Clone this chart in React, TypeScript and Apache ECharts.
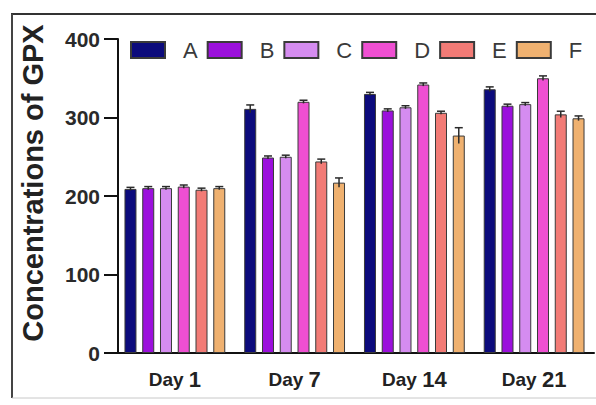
import React, { useEffect, useRef } from "react";
import * as echarts from "echarts";

const categories = ["Day 1", "Day 7", "Day 14", "Day 21"];
const seriesNames = ["A", "B", "C", "D", "E", "F"];
const valuesA = [209, 311, 330, 336];
const valuesB = [210, 249, 309, 315];
const valuesC = [210, 250, 313, 317];
const valuesD = [212, 320, 342, 350];
const valuesE = [208, 244, 306, 304];
const valuesF = [210, 217, 277, 299];
const errA = [2, 5, 2, 3];
const errB = [2, 2, 2, 2];
const errC = [2, 2, 2, 2];
const errD = [2, 2, 2, 3];
const errE = [2, 3, 2, 4];
const errF = [2, 6, 10, 3];
const yTicks = [0, 100, 200, 300, 400];
const colors = ["#0c0b7c", "#9b10dc", "#d58cf0", "#ef4fd2", "#f27b76", "#efb170"];

const allValues = [valuesA, valuesB, valuesC, valuesD, valuesE, valuesF];
const allErr = [errA, errB, errC, errD, errE, errF];

const FONT = "'Liberation Sans', Arial, Helvetica, sans-serif";
const BAR_W = 12;
const BAR_GAP = 0.48;

export default function App() {
  const ref = useRef<HTMLDivElement>(null);
  useEffect(() => {
    if (!ref.current) return;
    const chart = echarts.init(ref.current, undefined, { renderer: "svg" });
    const n = seriesNames.length;
    const stride = BAR_W * (1 + BAR_GAP);
    const barSeries = seriesNames.map((name, i) => ({
      name,
      type: "bar",
      data: allValues[i],
      barWidth: BAR_W,
      barGap: BAR_GAP * 100 + "%",
      itemStyle: { color: colors[i], borderColor: "#3a3a3a", borderWidth: 1 },
      z: 2,
    }));
    const errSeries = seriesNames.map((name, i) => {
      const offset = (i - (n - 1) / 2) * stride;
      return {
        name: name + "_err",
        type: "custom",
        z: 5,
        data: allValues[i].map((v, k) => [k, v, allErr[i][k]]),
        encode: { x: 0, y: 1 },
        renderItem: (params: any, api: any) => {
          const ci = api.value(0);
          const v = api.value(1);
          const e = api.value(2);
          const top = api.coord([ci, v + e]);
          const bot = api.coord([ci, v - e]);
          const x = top[0] + offset;
          const st = { stroke: "#2a2a2a", lineWidth: 1.5 };
          return {
            type: "group",
            children: [
              { type: "line", shape: { x1: x, y1: top[1], x2: x, y2: bot[1] }, style: st },
              { type: "line", shape: { x1: x - 4, y1: top[1], x2: x + 4, y2: top[1] }, style: st },
            ],
          };
        },
      };
    });
    chart.setOption({
      animation: false,
      backgroundColor: "#ffffff",
      grid: { left: 115, right: 2, top: 39, bottom: 52 },
      legend: {
        data: seriesNames,
        left: 125,
        top: 34,
        itemWidth: 34,
        itemHeight: 16,
        itemGap: 9,
        icon: "rect",
        textStyle: { fontSize: 22, color: "#3a3a3a", fontFamily: FONT, padding: [0, 0, 0, 13] },
      },
      xAxis: {
        type: "category",
        data: categories,
        axisLine: { lineStyle: { color: "#111", width: 2 } },
        axisTick: { alignWithLabel: true, length: 10, lineStyle: { color: "#111", width: 2 } },
        axisLabel: {
          margin: 15,
          formatter: (v: string) => {
            const parts = v.split(" ");
            return `{d|${parts[0]} }{n|${parts[1]}}`;
          },
          rich: {
            d: { fontSize: 19, fontWeight: "bold", color: "#222", fontFamily: FONT },
            n: { fontSize: 22, fontWeight: "bold", color: "#222", fontFamily: FONT },
          },
        },
      },
      yAxis: {
        type: "value",
        min: yTicks[0],
        max: yTicks[yTicks.length - 1],
        interval: 100,
        offset: -3,
        name: "Concentrations of GPX",
        nameLocation: "middle",
        nameGap: 71,
        nameTextStyle: {
          fontSize: 29,
          fontWeight: "bold",
          color: "#222",
          fontFamily: FONT,
          padding: [0, 0, 0, 26],
        },
        axisLine: { show: true, lineStyle: { color: "#111", width: 2 } },
        axisTick: { show: true, length: 14, lineStyle: { color: "#111", width: 2 } },
        axisLabel: { fontSize: 21, fontWeight: "bold", color: "#2a2a2a", fontFamily: FONT, margin: 18 },
        splitLine: { show: false },
      },
      graphic: [
        { type: "line", shape: { x1: 11, y1: 14, x2: 596, y2: 14 }, style: { stroke: "#333", lineWidth: 2 } },
        { type: "line", shape: { x1: 12, y1: 14, x2: 12, y2: 398 }, style: { stroke: "#444", lineWidth: 2 } },
        { type: "line", shape: { x1: 12, y1: 398, x2: 596, y2: 398 }, style: { stroke: "#c8c8c8", lineWidth: 1 } },
        { type: "line", shape: { x1: 106, y1: 353, x2: 118, y2: 353 }, style: { stroke: "#111", lineWidth: 2 } },
      ],
      series: [...barSeries, ...errSeries],
    });
    return () => chart.dispose();
  }, []);
  return (
    <div
      ref={ref}
      style={{ position: "absolute", left: 0, top: 0, width: 596, height: 405, background: "#fff" }}
    />
  );
}
